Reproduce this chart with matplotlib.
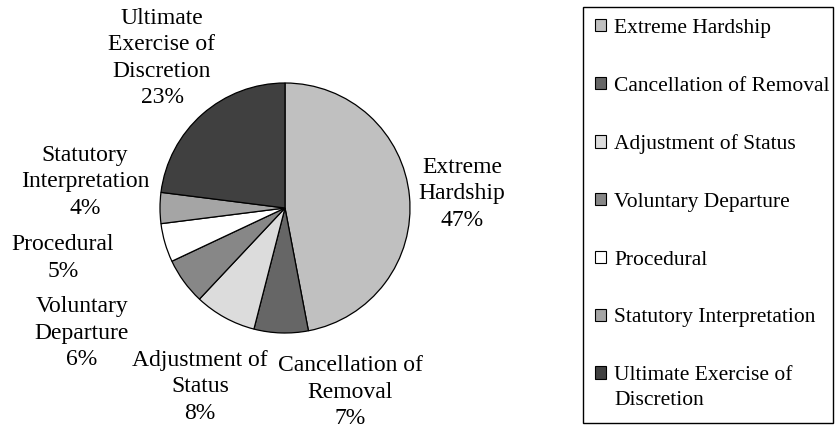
import matplotlib.pyplot as plt
from matplotlib.patches import Patch, Rectangle

# data
categories = ["Extreme Hardship", "Cancellation of Removal", "Adjustment of Status",
              "Voluntary Departure", "Procedural", "Statutory Interpretation",
              "Ultimate Exercise of Discretion"]
values = [47, 7, 8, 6, 5, 4, 23]
pie_labels = ["Extreme\nHardship", "Cancellation of\nRemoval", "Adjustment of\nStatus",
              "Voluntary\nDeparture", "Procedural", "Statutory\nInterpretation",
              "Ultimate\nExercise of\nDiscretion"]
legend_labels = ["Extreme Hardship", "Cancellation of Removal", "Adjustment of Status",
                 "Voluntary Departure", "Procedural", "Statutory Interpretation",
                 "Ultimate Exercise of"]
legend_wrap = "Discretion"
colors = ["#c0c0c0", "#666666", "#dcdcdc", "#878787", "#ffffff", "#a5a5a5", "#404040"]

# label centres in pixels (x, y from top)
label_pos = [(462, 194), (350, 392), (200, 387), (82, 333), (63, 258), (85, 182), (162, 58)]

plt.rcParams['font.family'] = ['Liberation Serif', 'DejaVu Serif']

W, H = 836, 429
fig = plt.figure(figsize=(W / 100, H / 100), dpi=100)
ax = fig.add_axes([0, 0, 1, 1])

cx, cy, r = 285, H - 208, 125
ax.pie(values, colors=colors, startangle=90, counterclock=False,
       center=(cx, cy), radius=r, frame=True,
       wedgeprops={'edgecolor': 'black', 'linewidth': 0.9})
ax.set_xlim(0, W)
ax.set_ylim(0, H)
ax.set_aspect('equal')
ax.axis('off')

for lab, v, (x, y) in zip(pie_labels, values, label_pos):
    ax.text(x, H - y, f"{lab}\n{v}%", ha='center', va='center',
            fontsize=17, linespacing=1.32, color='black')

# legend (frame drawn separately so the box matches the reference)
handles = [Patch(facecolor=c, edgecolor='black', linewidth=0.8) for c in colors]
leg = fig.legend(handles, legend_labels, loc='upper left',
                 bbox_to_anchor=(583 / W, 1 - 7 / H), frameon=False,
                 fontsize=15.5, handlelength=0.5, handleheight=0.5,
                 handletextpad=0.4, labelspacing=1.8, borderpad=0.55,
                 borderaxespad=0)

fig.canvas.draw()
bb = leg.get_texts()[-1].get_window_extent()
fig.text(bb.x0 / W, ((bb.y0 + bb.y1) / 2 - 25) / H, legend_wrap,
         fontsize=15.5, ha='left', va='center')

fig.patches.append(Rectangle((583 / W, 1 - 423 / H), 250 / W, 416 / H,
                             transform=fig.transFigure, fill=False,
                             edgecolor='black', linewidth=1.0))

fig.savefig("out.png", dpi=100)
